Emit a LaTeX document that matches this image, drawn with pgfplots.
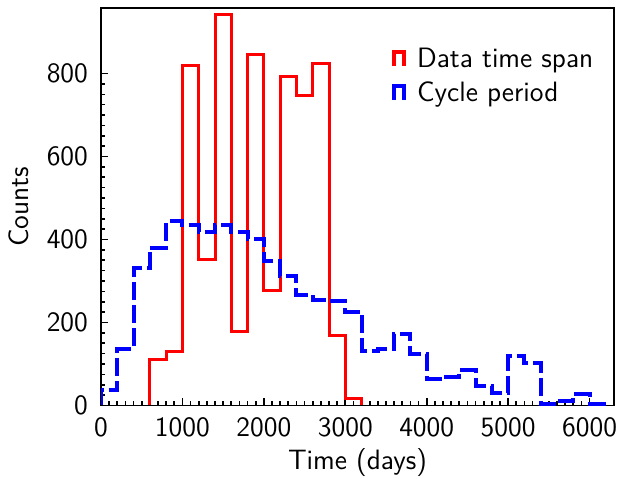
\documentclass[border=0pt]{standalone}
\usepackage{fontspec}
\usepackage{pgfplots}
\pgfplotsset{compat=1.18}
\begin{document}
\begin{tikzpicture}
\begin{axis}[
  scale only axis,
  width=256.5pt, height=198.75pt,
  xmin=0, xmax=6300, ymin=0, ymax=958,
  font=\fontsize{14}{16}\selectfont\sffamily,
  /pgf/number format/assume math mode=true,
  /pgf/number format/1000 sep={},
  xtick={0,1000,...,6000}, ytick={0,200,...,800},
  minor x tick num=9, minor y tick num=7,
  tick align=inside, tick pos=left,
  major tick length=3.5pt, minor tick length=2pt,
  tick style={black, line width=0.8pt},
  axis line style={line width=0.9pt},
  xticklabel style={yshift=-2.5pt},
  yticklabel style={xshift=-3pt},
  xlabel={Time (days)}, ylabel={Counts},
  xlabel style={yshift=1pt}, ylabel style={yshift=2pt},
  legend style={at={(0.555,0.92)}, anchor=north west, draw=none, fill=none,
    row sep=1.5pt, font=\fontsize{14}{16}\selectfont\sffamily},
  legend cell align=left,
  legend image code/.code={
    \draw[#1, solid, line width=2pt] (0pt,-3.5pt) -- (0pt,3.5pt) -- (5pt,3.5pt) -- (5pt,-3.5pt);
    \path (8.5pt,0pt);
  },
]
\addplot[red, line width=1.5pt, const plot mark left] coordinates {
  (600,0) (600,112) (800,131) (1000,820) (1200,352) (1400,942) (1600,178)
  (1800,847) (2000,278) (2200,793) (2400,748) (2600,825) (2800,169)
  (3000,18) (3200,18) (3200,0)
};
\addlegendentry{Data time span}
\addplot[blue, line width=2pt, const plot mark left, dash pattern=on 9pt off 2.5pt] coordinates {
  (0,0) (0,37) (200,137) (400,332) (600,380) (800,444) (1000,434) (1200,418)
  (1400,434) (1600,418) (1800,402) (2000,349) (2200,313) (2400,267)
  (2600,255) (2800,253) (3000,226) (3200,131) (3400,137) (3600,173)
  (3800,125) (4000,63) (4200,69) (4400,85) (4600,47) (4800,31) (5000,119)
  (5200,103) (5400,4) (5600,10) (5800,27) (6000,4) (6200,4) (6200,0)
};
\addlegendentry{Cycle period}
\end{axis}
\pgfresetboundingbox
\path[use as bounding box] ([xshift=-50.5pt,yshift=-36.5pt]current axis.south west)
  rectangle ([xshift=2pt,yshift=4pt]current axis.north east);
\end{tikzpicture}
\end{document}
